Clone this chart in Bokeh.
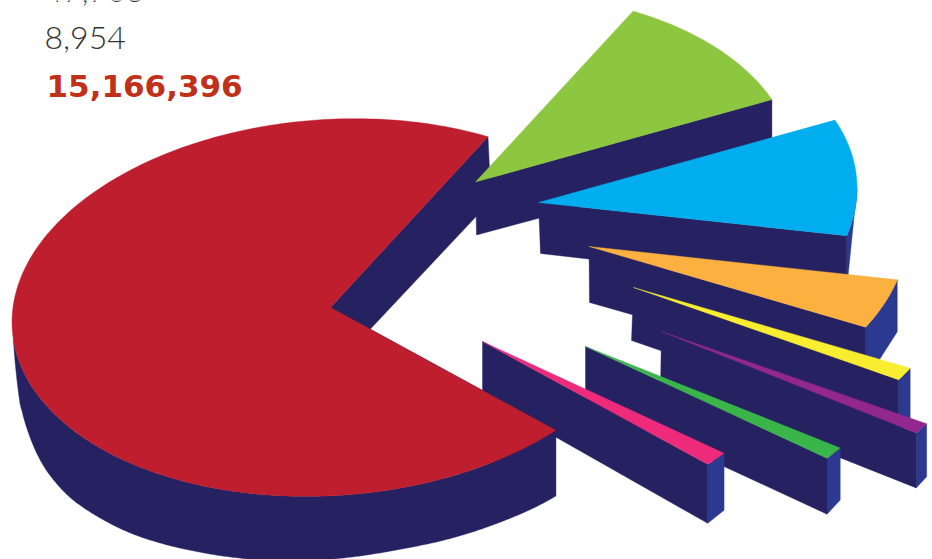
import numpy as np
from bokeh.plotting import figure
from bokeh.models import Range1d
from bokeh.core.properties import value
from bokeh.embed import file_html
from bokeh.resources import INLINE

# --- chart data -------------------------------------------------------------
slice_names = ["main", "lime", "sky", "orange", "yellow", "purple", "green", "pink"]
slice_shares = [70.7, 10.8, 10.0, 4.2, 1.1, 0.9, 1.05, 1.2]
total_label = "15,166,396"
other_labels = ["47,703", "8,954"]

# --- styles ----------------------------------------------------------------
top_colors = ["#BE1E2D", "#8DC63F", "#00AEEF", "#FBB040", "#F9ED32", "#92278F", "#39B54A", "#EE2A7B"]
NAVY = "#262262"
RIM = "#2B3990"

# --- layout of the projected pie -------------------------------------------
RX, RY = 319.0, 188.0
TILT = np.radians(4.0)
START = 58.0
apex_x = [330, 475, 538, 588.5, 633, 661, 585, 482]
apex_y = [307, 181.5, 202, 246, 287, 331, 346, 341]
apex_depth = [64, 53, 51, 56, 53, 55, 56, 54]
apex_low_dx = [0, 1, 2, 0.5, -2, -1, 0, 0]
end_depth = [64, 56, 53, 54, 53, 55, 56, 59]
# the lighter outer wall of an exploded slice: depth at its far end, and the
# angle it starts from when that is not the slice's own start
rim_start_depth = [0, 0, 0, 52, 53, 53, 52, 57]
rim_start_t = [None, None, -2.3, None, None, None, None, None]
# depth of the main slice's outer wall along its arc (angle, depth)
main_wall_t = [183, 190.5, 197, 203, 212, 229, 243, 259, 280, 300, 313]
main_wall_d = [0, 40, 54, 64, 70, 70, 67, 65, 61, 63, 66]
START_WALL_DX = 3


def rim_point(t):
    u, v = RX * np.cos(t), RY * np.sin(t)
    return u * np.cos(TILT) - v * np.sin(TILT), -(u * np.sin(TILT) + v * np.cos(TILT))


total = sum(slice_shares)
spans = [s / total * 360.0 for s in slice_shares]

arcs = [(START + spans[0], START)]
a = START
for s in spans[1:]:
    arcs.append((a, a - s))
    a -= s

xs, ys, colors = [], [], []


def add(px, py, c):
    xs.append(list(px))
    ys.append(list(py))
    colors.append(c)


def arc_xy(i, a0, a1, n=60):
    t = np.linspace(a0, a1, n)
    ux, uy = rim_point(np.radians(t))
    return t, ux + apex_x[i], uy + apex_y[i]


def main_sides():
    a_end, a_start = arcs[0]
    _, sx, sy = arc_xy(0, a_start, a_start, 1)
    add([apex_x[0], sx[0], sx[0] + START_WALL_DX, apex_x[0]],
        [apex_y[0], sy[0], sy[0] + apex_depth[0], apex_y[0] + apex_depth[0]], NAVY)
    t, px, py = arc_xy(0, main_wall_t[0], a_end, 260)
    d = np.interp(t, main_wall_t, main_wall_d)
    # round off the corners of the depth profile
    w = 13
    pad = np.r_[np.full(w, d[0]), d, np.full(w, d[-1])]
    smooth = np.convolve(pad, np.ones(w) / w, mode="same")[w:-w]
    keep = t < 192
    d = np.where(keep, d, smooth)
    add(np.r_[px, px[::-1]], np.r_[py, (py + d)[::-1]], NAVY)
    add([apex_x[0], px[-1], px[-1], apex_x[0]],
        [apex_y[0], py[-1], py[-1] + d[-1], apex_y[0] + apex_depth[0]], NAVY)


def slice_sides(i):
    a0, a1 = arcs[i]
    if rim_start_depth[i] > 0 or rim_start_t[i] is not None:
        t0 = a0 if rim_start_t[i] is None else rim_start_t[i]
        _, px, py = arc_xy(i, t0, a1)
        add(np.r_[px, px[-1], px[0]],
            np.r_[py, py[-1] + end_depth[i], py[0] + rim_start_depth[i]], RIM)
    _, ex, ey = arc_xy(i, a1, a1, 1)
    add([apex_x[i], ex[0], ex[0], apex_x[i] + apex_low_dx[i]],
        [apex_y[i], ey[0], ey[0] + end_depth[i], apex_y[i] + apex_depth[i]], NAVY)


def slice_top(i):
    a0, a1 = arcs[i]
    _, px, py = arc_xy(i, a0, a1, 240 if i == 0 else 60)
    add(np.r_[apex_x[i], px], np.r_[apex_y[i], py], top_colors[i])


main_sides()
for i in range(1, len(slice_names)):
    slice_sides(i)
    slice_top(i)
slice_top(0)

p = figure(width=932, height=559, output_backend="svg", toolbar_location=None,
           x_range=Range1d(0, 932), y_range=Range1d(559, 0), min_border=0)
p.axis.visible = False
p.grid.visible = False
p.outline_line_color = None

p.patches(xs, ys, fill_color=colors, line_color=colors, line_width=0.4)

p.text([44, 44], [-10, 37], text=other_labels, text_font=value("Lato Light"), text_font_size="32px",
       text_color="#333333", text_baseline="alphabetic")
p.text([46], [85], text=[total_label], text_font=value("DejaVu Sans"), text_font_size="31px",
       text_font_style="bold", text_color="#C1311A", text_baseline="alphabetic")

open("out.html", "w").write(file_html(p, INLINE))
